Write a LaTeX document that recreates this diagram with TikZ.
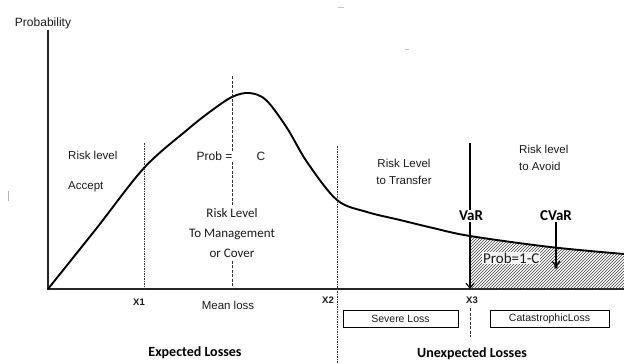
\documentclass[tikz,border=0pt]{standalone}
\usepackage{fontspec}
\setmainfont{Liberation Sans}
\newfontfamily\calib{Carlito}
\usetikzlibrary{arrows.meta,patterns}
\begin{document}
\begin{tikzpicture}[x=1pt,y=-1pt,
  axisline/.style={line width=1.1pt,black!85},
  curveline/.style={line width=1.9pt,black},
  dotline/.style={line width=0.7pt,black!80,dash pattern=on 1.5pt off 1pt},
  arial/.style={font=\fontsize{11.5}{17}\selectfont,text=black!90,inner sep=1pt},
  cal/.style={font=\calib\fontsize{13}{20}\selectfont,text=black!90,inner sep=1pt},
  calbold/.style={font=\calib\bfseries\fontsize{15}{18}\selectfont,text=black},
  xlab/.style={font=\bfseries\fontsize{9.5}{10}\selectfont,text=black!90},
  lossbox/.style={draw,line width=0.8pt,minimum height=17pt,inner sep=0pt,font=\fontsize{10.5}{12}\selectfont,text=black!90},
  arr/.style={line width=1.1pt,-{Straight Barb[length=5pt,width=8pt]}}
]
\useasboundingbox (0,0) rectangle (624,364);
% stray marks
\draw[black!25,line width=0.6pt] (338,7) -- (344,7);
\draw[black!25,line width=0.5pt] (405,49) -- (409,49);
\draw[black!30,line width=0.6pt] (8,191) -- (8,201);

% axes
\coordinate (o) at (48,289);
\coordinate (ytop) at (48,30);
\coordinate (xend) at (624,289);
\draw[axisline] (ytop) -- (o) -- (xend);
\node[arial,font=\fontsize{12}{13}\selectfont] (prob) at (43,23) {Probability};

% hatched tail
\begin{scope}
  \clip plot[smooth,tension=0.55] coordinates {(48,289) (96,229) (144,168) (187,130) (211,111) (232,97) (249,93) (266,100) (287,128) (307,162) (337,200) (367,212) (400,220) (433,228) (470,236) (550,247) (624,254)} -- (624,289) -- (48,289) -- cycle;
  \fill[pattern=north east lines,pattern color=black!75] (470,180) rectangle (624,289);
\end{scope}

% curve
\draw[curveline] plot[smooth,tension=0.55] coordinates {(48,289) (96,229) (144,168) (187,130) (211,111) (232,97) (249,93) (266,100) (287,128) (307,162) (337,200) (367,212) (400,220) (433,228) (470,236) (550,247) (624,254)};

% vertical guide lines
\coordinate (x1t) at (144,143); \coordinate (x1b) at (144,289);
\draw[dotline] (x1t) -- (x1b);
\coordinate (mlt) at (232,76); \coordinate (mlb) at (232,289);
\draw[dotline,dash pattern=on 3pt off 1.5pt] (mlt) -- (mlb);
\coordinate (x2t) at (337,146); \coordinate (x2b) at (337,364);
\draw[dotline] (x2t) -- (x2b);
\coordinate (x3t) at (470,308); \coordinate (x3b) at (470,337);
\draw[dotline,dash pattern=on 3pt off 1.5pt] (x3t) -- (x3b);

% VaR arrow
\coordinate (vtop) at (470,143); \coordinate (vbot) at (470,289);
\draw[arr] (vtop) -- (vbot);
\node[calbold,fill=white,inner sep=1pt] (var) at (471,216) {VaR};

% CVaR arrow
\node[calbold,inner sep=1pt] (cvar) at (556,216) {CVaR};
\node[font=\calib\fontsize{15}{18}\selectfont,text=black!90,fill=white,fill opacity=0.85,text opacity=1,inner sep=1pt,anchor=west] (p1c) at (482,258) {Prob=1-C};
\coordinate (cdot) at (556,267);
\draw[arr] (cvar.south) -- (cdot);
\fill[black] (cdot) circle (1.8pt);

% region labels
\node[arial,anchor=west] (rl1) at (67,155) {Risk level};
\node[arial,anchor=west] (acc) at (67,187) {Accept};
\node[arial,font=\fontsize{12}{14}\selectfont,fill=white,anchor=east,inner sep=1pt] (probeq) at (233.5,156) {Prob =};
\node[arial,font=\fontsize{12}{14}\selectfont] (cc) at (261,156) {C};
\node[cal,align=center,fill=white,inner sep=1.5pt] (mgmt) at (232,233) {Risk Level\\To Management\\or Cover};
\node[arial,font=\fontsize{11.5}{17.5}\selectfont,align=center] (trans) at (404,172) {Risk Level\\to Transfer};
\node[arial,font=\fontsize{11.5}{17}\selectfont,align=left,anchor=west] (avoid) at (518,158) {Risk level\\to Avoid};

% axis labels
\node[xlab] (lx1) at (139,302) {X1};
\node[arial,font=\fontsize{11.5}{13}\selectfont] (mloss) at (228,305) {Mean loss};
\node[xlab] (lx2) at (328,300) {X2};
\node[xlab] (lx3) at (472,300) {X3};

% boxes
\node[lossbox,minimum width=115pt] (sev) at (400.5,318.5) {Severe Loss};
\node[lossbox,minimum width=119pt] (cat) at (549.5,318.5) {CatastrophicLoss};

% bottom labels
\node[calbold,font=\calib\bfseries\fontsize{14}{16}\selectfont] (exp) at (195,353) {Expected Losses};
\node[calbold,font=\calib\bfseries\fontsize{14}{16}\selectfont] (unexp) at (472,354) {Unexpected Losses};
\end{tikzpicture}
\end{document}
